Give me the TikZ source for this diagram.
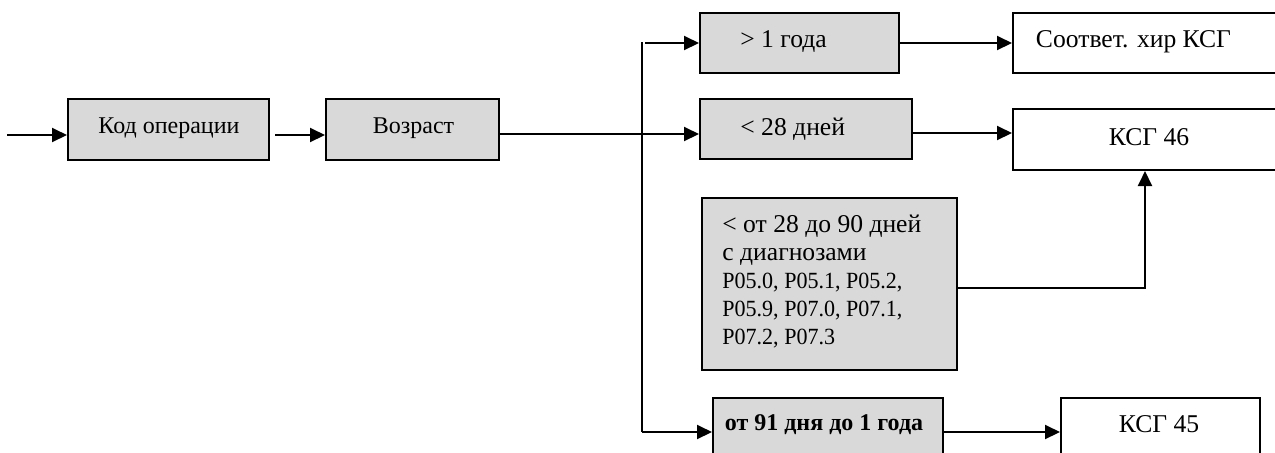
\documentclass[tikz,border=0pt]{standalone}
\usepackage{fontspec}
\setmainfont{Liberation Serif}
\newfontfamily\narrowserif[FakeStretch=0.95]{Liberation Serif}
\usetikzlibrary{arrows.meta}
\definecolor{boxgray}{HTML}{D9D9D9}
\begin{document}
\begin{tikzpicture}[x=0.5pt,y=-0.5pt,
  box/.style={draw=black, line width=1pt, fill=boxgray, inner sep=0pt, font=\fontsize{12}{14}\selectfont},
  wbox/.style={box, fill=white},
  conn/.style={line width=1pt},
  vline/.style={line width=0.7pt},
  arr/.style={conn, -{Triangle[length=7.5pt,width=7pt]}},
  lbl/.style={inner sep=0pt, font=\fontsize{12}{14}\selectfont},
  biglbl/.style={inner sep=0pt, font=\fontsize{12.8}{14}\selectfont}]
\useasboundingbox (0,0) rectangle (1275,452);
\clip (0,0) rectangle (1275,452);

% boxes
\node[box, minimum width=100.5pt, minimum height=30.5pt] (kod) at (168.5,129.5) {};
\node[box, minimum width=86.5pt, minimum height=30.5pt] (voz) at (412.5,129.5) {};
\node[box, minimum width=99.5pt, minimum height=30pt] (g1) at (799.5,43) {};
\node[box, minimum width=106pt, minimum height=30pt] (l28) at (806,129) {};
\node[box, minimum width=127.5pt, minimum height=86pt] (diag) at (829.5,284) {};
\node[box, minimum width=115pt, minimum height=30pt] (d91) at (828,428) {};
\node[wbox, minimum width=136pt, minimum height=30pt] (sootv) at (1149,43) {};
\node[wbox, minimum width=132pt, minimum height=30.5pt] (k46) at (1145,139.5) {};
\node[wbox, minimum width=99.5pt, minimum height=30pt] (k45) at (1160.5,428) {};

% texts
\node[lbl] (tkod) at (169,128) {Код операции};
\node[lbl] (tvoz) at (413.5,128) {Возраст};
\node[biglbl, anchor=west] (tg1) at (740,42) {> 1 года};
\node[biglbl, anchor=west] (tl28) at (740,129) {< 28 дней};
\node[lbl, anchor=west, align=left] (tdiag) at (722,282) {{\fontsize{12.8}{14}\selectfont < от 28 до 90 дней}\\{\fontsize{12.8}{14}\selectfont с диагнозами}\\{\narrowserif\fontsize{11.6}{14}\selectfont P05.0, P05.1, P05.2,}\\{\narrowserif\fontsize{11.6}{14}\selectfont P05.9, P07.0, P07.1,}\\{\narrowserif\fontsize{11.6}{14}\selectfont P07.2, P07.3}};
\node[lbl, font=\fontsize{12}{14}\selectfont\bfseries] (td91) at (824,425) {от 91 дня до 1 года};
\node[biglbl] (tsootv) at (1133.5,42) {Соответ. хир КСГ};
\node[biglbl] (tk46) at (1149,137) {КСГ 46};
\node[biglbl] (tk45) at (1159,424) {КСГ 45};

% coordinates
\coordinate (in) at (7,135);
\coordinate (vtop) at (642,42);
\coordinate (vbot) at (642,432);
\coordinate (atop) at (645,43);
\coordinate (mid) at (0,134);
\coordinate (r46) at (0,133);
\coordinate (dg) at (0,288);

% connectors
\draw[arr] (in) -- (kod.west |- in);
\draw[arr, shorten <=2.5pt] (kod.east |- in) -- (voz.west |- in);
\draw[arr] (voz.east |- mid) -- (l28.west |- mid);
\draw[vline] (vtop) -- (vbot);
\draw[arr] (atop) -- (g1.west);
\draw[arr] (vbot) -- (d91.west |- vbot);
\draw[arr] (g1.east) -- (sootv.west);
\draw[arr] (l28.east |- r46) -- (k46.west |- r46);
\draw[arr] (diag.east |- dg) -| (k46.south);
\draw[arr] (d91.east |- vbot) -- (k45.west |- vbot);
\end{tikzpicture}
\end{document}
